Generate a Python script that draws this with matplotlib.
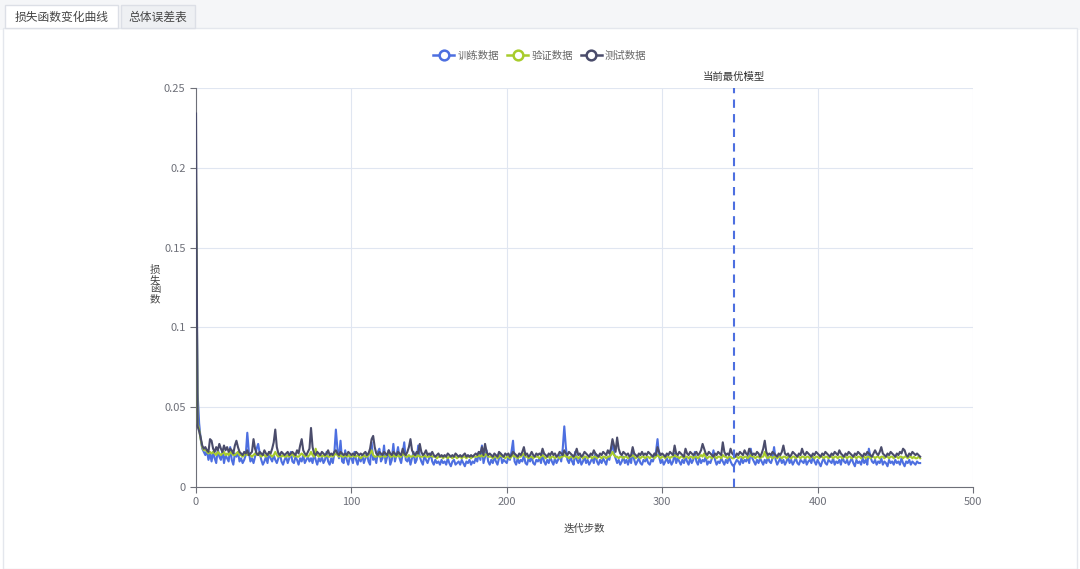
import numpy as np
import matplotlib
matplotlib.use("Agg")
import matplotlib.pyplot as plt
from matplotlib.lines import Line2D
from matplotlib.patches import Rectangle

plt.rcParams['font.family'] = ['Noto Sans CJK SC', 'DejaVu Sans']

# loss values, in thousandths
train = [
    165, 59, 40, 30, 24, 22, 20, 23, 17, 21,
    16, 22, 18, 15, 24, 19, 17, 23, 15, 20,
    18, 16, 25, 17, 14, 21, 19, 22, 16, 18,
    15, 17, 20, 34, 22, 16, 18, 15, 19, 24,
    27, 21, 17, 14, 16, 19, 15, 22, 18, 16,
    20, 17, 15, 18, 21, 16, 14, 17, 19, 15,
    18, 22, 16, 15, 19, 17, 14, 18, 16, 20,
    15, 17, 19, 16, 18, 15, 21, 17, 14, 18,
    16, 19, 15, 17, 22, 16, 14, 18, 15, 21,
    36, 24, 18, 29, 16, 15, 23, 17, 14, 19,
    18, 15, 22, 17, 14, 19, 16, 20, 15, 18,
    21, 16, 14, 28, 17, 19, 15, 22, 24, 16,
    18, 26, 15, 19, 23, 14, 17, 27, 16, 20,
    25, 18, 15, 21, 28, 17, 16, 19, 14, 18,
    22, 15, 17, 26, 19, 16, 14, 20, 17, 15,
    18, 21, 16, 14, 17, 15, 16, 14, 17, 15,
    16, 14, 18, 15, 13, 16, 17, 14, 15, 16,
    14, 17, 15, 13, 16, 15, 17, 14, 16, 15,
    18, 16, 22, 17, 26, 15, 19, 23, 16, 14,
    17, 15, 19, 16, 14, 18, 21, 15, 17, 16,
    15, 19, 17, 22, 29, 16, 14, 18, 15, 17,
    16, 20, 15, 14, 18, 16, 19, 15, 14, 17,
    16, 18, 15, 21, 16, 14, 17, 15, 19, 16,
    14, 18, 15, 17, 20, 16, 24, 38, 25, 17,
    15, 19, 16, 14, 22, 17, 15, 18, 14, 16,
    19, 15, 17, 14, 16, 18, 15, 21, 16, 14,
    17, 15, 18, 16, 14, 19, 17, 23, 27, 21,
    18, 15, 17, 14, 16, 19, 15, 17, 14, 18,
    15, 23, 17, 14, 16, 18, 15, 14, 17, 16,
    18, 15, 14, 17, 16, 19, 22, 30, 19, 15,
    17, 14, 16, 18, 15, 17, 14, 16, 21, 15,
    18, 16, 14, 17, 15, 19, 16, 14, 18, 15,
    17, 22, 16, 14, 18, 15, 17, 16, 19, 14,
    16, 15, 18, 23, 17, 14, 16, 15, 18, 16,
    14, 17, 15, 19, 16, 14, 13, 15, 17, 16,
    14, 18, 15, 17, 16, 19, 15, 24, 18, 16,
    14, 17, 15, 18, 16, 14, 17, 15, 19, 16,
    15, 18, 25, 17, 14, 16, 18, 15, 17, 14,
    16, 19, 15, 17, 14, 16, 18, 15, 14, 17,
    16, 15, 18, 14, 16, 17, 15, 19, 16, 14,
    17, 15, 13, 16, 18, 15, 14, 17, 16, 15,
    18, 14, 16, 15, 17, 14, 19, 16, 15, 17,
    14, 16, 18, 15, 13, 17, 15, 16, 14, 18,
    15, 17, 14, 24, 19, 16, 15, 17, 14, 16,
    15, 18, 14, 16, 15, 13, 17, 15, 16, 14,
    17, 15, 16, 14, 18, 15, 13, 16, 15, 17,
    14, 16, 15, 14, 16, 15, 15,
]

val = [
    190, 40, 36, 30, 25, 23, 24, 22, 21, 22,
    21, 22, 21, 20, 22, 21, 20, 21, 22, 20,
    21, 20, 22, 21, 20, 20, 21, 22, 20, 20,
    19, 20, 21, 20, 21, 20, 19, 20, 21, 20,
    21, 20, 19, 20, 20, 19, 20, 21, 20, 19,
    20, 22, 20, 19, 20, 19, 20, 19, 19, 20,
    19, 20, 21, 19, 20, 19, 19, 20, 21, 20,
    19, 20, 19, 20, 22, 20, 19, 24, 20, 19,
    20, 19, 20, 19, 20, 19, 19, 20, 19, 20,
    21, 20, 19, 20, 19, 19, 20, 19, 20, 19,
    19, 20, 19, 19, 20, 19, 18, 19, 20, 19,
    19, 20, 21, 23, 20, 19, 19, 20, 19, 19,
    20, 19, 19, 20, 21, 19, 19, 20, 19, 19,
    20, 19, 19, 21, 20, 19, 19, 20, 19, 19,
    20, 19, 19, 20, 19, 19, 19, 20, 19, 19,
    19, 20, 19, 19, 19, 18, 19, 19, 19, 18,
    19, 19, 18, 19, 19, 18, 19, 19, 18, 19,
    19, 18, 19, 19, 18, 19, 19, 18, 19, 19,
    19, 19, 20, 19, 20, 19, 20, 21, 19, 19,
    19, 18, 19, 19, 18, 19, 20, 19, 19, 18,
    19, 19, 18, 19, 20, 19, 19, 18, 19, 19,
    20, 21, 19, 19, 18, 19, 19, 18, 19, 19,
    19, 18, 19, 20, 19, 18, 19, 19, 18, 19,
    19, 18, 19, 19, 18, 19, 19, 20, 19, 19,
    18, 19, 19, 18, 19, 19, 18, 19, 19, 18,
    19, 19, 18, 19, 19, 18, 19, 19, 18, 19,
    19, 18, 19, 19, 18, 19, 19, 20, 22, 20,
    19, 19, 18, 19, 19, 18, 19, 19, 18, 19,
    19, 20, 19, 18, 19, 19, 18, 19, 19, 18,
    19, 19, 18, 19, 19, 18, 19, 20, 19, 18,
    19, 19, 18, 19, 19, 18, 19, 19, 20, 19,
    19, 18, 19, 19, 18, 19, 19, 18, 19, 19,
    18, 19, 19, 18, 19, 20, 19, 21, 19, 18,
    19, 19, 18, 19, 19, 18, 19, 19, 18, 20,
    19, 19, 18, 19, 19, 18, 18, 19, 19, 18,
    19, 19, 18, 19, 19, 18, 19, 20, 19, 19,
    18, 19, 19, 18, 19, 19, 22, 19, 18, 19,
    19, 18, 19, 19, 18, 19, 19, 18, 19, 19,
    18, 19, 19, 18, 19, 19, 18, 19, 19, 18,
    19, 19, 18, 19, 19, 18, 19, 19, 18, 19,
    19, 18, 19, 19, 18, 19, 19, 18, 19, 19,
    18, 19, 19, 18, 19, 19, 18, 19, 19, 18,
    19, 19, 18, 19, 19, 18, 19, 19, 18, 19,
    19, 18, 19, 19, 18, 19, 19, 18, 19, 19,
    18, 19, 19, 18, 19, 19, 18, 19, 19, 18,
    19, 19, 18, 19, 19, 18, 19, 19, 18, 19,
    19, 18, 19, 18, 18, 19, 18,
]

test = [
    234, 38, 35, 31, 26, 24, 25, 23, 22, 30,
    29, 24, 22, 25, 23, 27, 24, 22, 26, 23,
    25, 22, 24, 23, 21, 26, 29, 25, 22, 21,
    20, 22, 21, 23, 20, 21, 22, 30, 24, 21,
    20, 22, 21, 20, 23, 21, 20, 22, 21, 24,
    28, 36, 25, 21, 20, 22, 21, 20, 21, 22,
    20, 21, 22, 21, 20, 23, 21, 26, 30, 23,
    21, 20, 22, 24, 37, 25, 21, 20, 22, 21,
    20, 22, 21, 20, 21, 23, 20, 21, 20, 22,
    23, 21, 20, 22, 21, 20, 21, 20, 22, 21,
    20, 21, 20, 22, 21, 20, 21, 20, 21, 22,
    20, 21, 24, 30, 32, 25, 21, 20, 22, 21,
    20, 22, 21, 20, 23, 21, 20, 22, 21, 20,
    22, 21, 20, 24, 21, 20, 22, 25, 30, 23,
    21, 20, 22, 21, 27, 22, 20, 21, 23, 20,
    21, 20, 22, 20, 19, 20, 21, 19, 20, 19,
    20, 19, 21, 20, 19, 20, 19, 21, 20, 19,
    20, 19, 20, 21, 19, 20, 19, 20, 19, 20,
    21, 20, 22, 21, 25, 20, 27, 22, 20, 21,
    20, 19, 21, 20, 19, 22, 21, 20, 19, 21,
    20, 21, 19, 20, 22, 21, 20, 19, 21, 20,
    22, 25, 20, 21, 19, 20, 22, 20, 19, 21,
    20, 21, 20, 24, 21, 20, 19, 21, 20, 22,
    20, 21, 19, 20, 22, 21, 20, 23, 21, 20,
    22, 21, 20, 19, 21, 24, 20, 21, 19, 20,
    22, 21, 20, 19, 21, 20, 23, 21, 20, 19,
    21, 20, 22, 21, 20, 23, 21, 24, 30, 26,
    22, 31, 24, 21, 20, 22, 21, 20, 21, 19,
    20, 25, 21, 20, 19, 21, 20, 22, 20, 21,
    20, 22, 21, 20, 19, 21, 20, 25, 22, 20,
    21, 20, 19, 21, 20, 22, 21, 20, 26, 21,
    20, 22, 21, 20, 19, 24, 21, 20, 22, 21,
    20, 21, 22, 20, 21, 23, 27, 24, 21, 20,
    22, 21, 20, 19, 21, 20, 22, 21, 20, 28,
    22, 20, 21, 20, 24, 21, 20, 19, 21, 20,
    22, 21, 20, 23, 21, 20, 24, 22, 20, 21,
    20, 22, 21, 19, 21, 24, 29, 22, 20, 21,
    20, 22, 21, 20, 19, 21, 20, 22, 26, 21,
    20, 21, 19, 20, 22, 21, 20, 19, 21, 20,
    24, 21, 20, 22, 21, 20, 19, 21, 20, 22,
    21, 20, 19, 21, 20, 22, 21, 20, 19, 21,
    20, 22, 21, 20, 23, 21, 20, 19, 21, 20,
    22, 21, 20, 19, 21, 20, 22, 21, 20, 19,
    21, 20, 22, 21, 20, 19, 21, 23, 21, 20,
    22, 25, 21, 20, 19, 21, 20, 22, 21, 20,
    19, 21, 20, 22, 21, 24, 23, 20, 19, 21,
    20, 22, 21, 20, 21, 20, 19,
]

best_step = 346
series_names = ["训练数据", "验证数据", "测试数据"]
colors = ["#4d6fe0", "#a8cc2c", "#4a4c6b"]

fig = plt.figure(figsize=(10.8, 5.69), dpi=100)

# tab bar / panel behind the chart
fig.patches.append(Rectangle((0, 0.948), 1, 0.052, transform=fig.transFigure,
                             facecolor="#f5f6f8", edgecolor="none", zorder=-3))
fig.patches.append(Rectangle((0.003, 0.0), 0.994, 0.950, transform=fig.transFigure,
                             facecolor="white", edgecolor="#e4e7ed", lw=1, zorder=-3))
fig.patches.append(Rectangle((0.005, 0.950), 0.104, 0.042, transform=fig.transFigure,
                             facecolor="white", edgecolor="#dcdfe6", lw=1, zorder=-2))
fig.patches.append(Rectangle((0.112, 0.950), 0.069, 0.042, transform=fig.transFigure,
                             facecolor="#eef0f3", edgecolor="#dcdfe6", lw=1, zorder=-2))
fig.text(0.057, 0.970, "损失函数变化曲线", ha="center", va="center", fontsize=8.5, color="#444444")
fig.text(0.1465, 0.970, "总体误差表", ha="center", va="center", fontsize=8.5, color="#444444")

ax = fig.add_axes([0.1815, 0.1441, 0.7194, 0.7012])
ax.set_zorder(5)
ax.patch.set_alpha(0)

steps = np.arange(len(train))
for data, name, c in zip([train, val, test], series_names, colors):
    ax.plot(steps, np.array(data) / 1000.0, color=c, lw=1.5, label=name, zorder=3)

ax.axvline(best_step, color="#4d6fe0", lw=1.5, ls=(0, (4, 3)), zorder=4)
ax.text(best_step, 0.2535, "当前最优模型", ha="center", va="bottom", fontsize=7.5, color="#333333")

ax.set_xlim(0, 500)
ax.set_ylim(0, 0.25)
ax.set_xticks([0, 100, 200, 300, 400, 500])
ax.set_yticks([0, 0.05, 0.1, 0.15, 0.2, 0.25])
ax.set_yticklabels(["0", "0.05", "0.1", "0.15", "0.2", "0.25"])
ax.grid(True, color="#e0e6f1", lw=0.8)
ax.set_axisbelow(True)
for s in ["top", "right"]:
    ax.spines[s].set_visible(False)
for s in ["left", "bottom"]:
    ax.spines[s].set_color("#6e7079")
ax.tick_params(colors="#6e7079", labelsize=8, length=4, width=0.8, labelcolor="#6e7079")

ax.set_xlabel("迭代步数", fontsize=7.5, color="#444444", labelpad=12)
fig.text(0.1435, 0.5, "损\n失\n函\n数", ha="center", va="center", fontsize=7.5,
         color="#444444", linespacing=0.95)

handles = [Line2D([0], [0], color=c, lw=1.8, marker="o", markersize=7,
                  markerfacecolor="white", markeredgewidth=1.8) for c in colors]
fig.legend(handles, series_names, loc="center", bbox_to_anchor=(0.5, 0.902), ncol=3,
           frameon=False, fontsize=7.5, handlelength=2.0, columnspacing=0.8,
           handletextpad=0.3, labelcolor="#666666")

fig.savefig("out.png", dpi=100)
